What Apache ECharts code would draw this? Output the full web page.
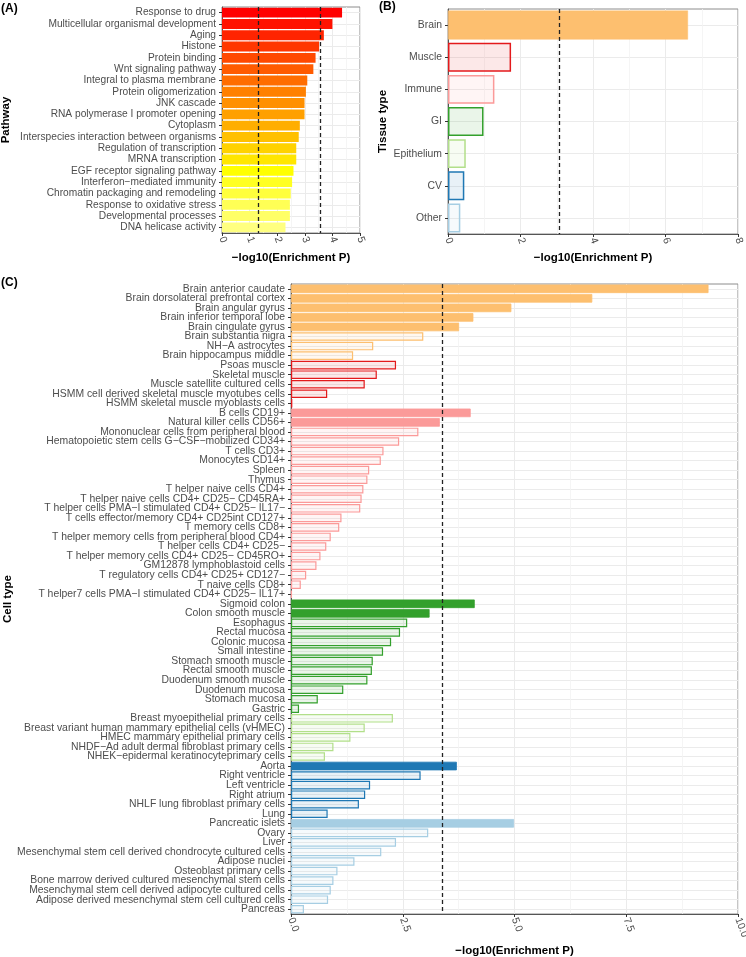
<!DOCTYPE html>
<html><head><meta charset="utf-8">
<script src="https://cdn.jsdelivr.net/npm/echarts@6/dist/echarts.min.js"></script>
<style>html,body{margin:0;padding:0;background:#fff}#c{width:746px;height:957px}</style>
</head><body><div id="c"></div>
<script>
// ---------- DATA ----------
const pathways = ['Response to drug','Multicellular organismal development','Aging','Histone','Protein binding','Wnt signaling pathway','Integral to plasma membrane','Protein oligomerization','JNK cascade','RNA polymerase I promoter opening','Cytoplasm','Interspecies interaction between organisms','Regulation of transcription','MRNA transcription','EGF receptor signaling pathway','Interferon−mediated immunity','Chromatin packaging and remodeling','Response to oxidative stress','Developmental processes','DNA helicase activity'];
const pathwayValues = [4.35,4.00,3.69,3.52,3.39,3.31,3.09,3.04,2.99,2.99,2.82,2.78,2.69,2.69,2.59,2.54,2.49,2.46,2.46,2.30];
const pathwayThresholds = [1.30,3.55];
const pathwayTicks = [0,1,2,3,4,5];

const tissues = ['Brain','Muscle','Immune','GI','Epithelium','CV','Other'];
const tissueValues = [6.62,1.74,1.28,0.98,0.49,0.45,0.34];
const tissueSignificant = [true,false,false,false,false,false,false];
const tissueThresholds = [3.08];
const tissueTicks = [0,2,4,6,8];

const cellTypes = ['Brain anterior caudate','Brain dorsolateral prefrontal cortex','Brain angular gyrus','Brain inferior temporal lobe','Brain cingulate gyrus','Brain substantia nigra','NH−A astrocytes','Brain hippocampus middle',
'Psoas muscle','Skeletal muscle','Muscle satellite cultured cells','HSMM cell derived skeletal muscle myotubes cells','HSMM skeletal muscle myoblasts cells',
'B cells CD19+','Natural killer cells CD56+','Mononuclear cells from peripheral blood','Hematopoietic stem cells G−CSF−mobilized CD34+','T cells CD3+','Monocytes CD14+','Spleen','Thymus','T helper naive cells CD4+','T helper naive cells CD4+ CD25− CD45RA+','T helper cells PMA−I stimulated CD4+ CD25− IL17−','T cells effector/memory CD4+ CD25int CD127+','T memory cells CD8+','T helper memory cells from peripheral blood CD4+','T helper cells CD4+ CD25−','T helper memory cells CD4+ CD25− CD45RO+','GM12878 lymphoblastoid cells','T regulatory cells CD4+ CD25+ CD127−','T naive cells CD8+','T helper7 cells PMA−I stimulated CD4+ CD25− IL17+',
'Sigmoid colon','Colon smooth muscle','Esophagus','Rectal mucosa','Colonic mucosa','Small intestine','Stomach smooth muscle','Rectal smooth muscle','Duodenum smooth muscle','Duodenum mucosa','Stomach mucosa','Gastric',
'Breast myoepithelial primary cells','Breast variant human mammary epithelial cells (vHMEC)','HMEC mammary epithelial primary cells','NHDF−Ad adult dermal fibroblast primary cells','NHEK−epidermal keratinocyteprimary cells',
'Aorta','Right ventricle','Left ventricle','Right atrium','NHLF lung fibroblast primary cells','Lung',
'Pancreatic islets','Ovary','Liver','Mesenchymal stem cell derived chondrocyte cultured cells','Adipose nuclei','Osteoblast primary cells','Bone marrow derived cultured mesenchymal stem cells','Mesenchymal stem cell derived adipocyte cultured cells','Adipose derived mesenchymal stem cell cultured cells','Pancreas'];
const cellValues = [9.34,6.74,4.93,4.08,3.76,2.96,1.84,1.39,
2.35,1.92,1.65,0.81,0.03,
4.02,3.33,2.85,2.42,2.07,2.01,1.75,1.71,1.62,1.58,1.55,1.13,1.08,0.89,0.79,0.66,0.57,0.34,0.22,0.02,
4.11,3.10,2.60,2.44,2.24,2.06,1.83,1.81,1.71,1.17,0.60,0.18,
2.28,1.65,1.33,0.95,0.76,
3.71,2.90,1.77,1.66,1.52,0.82,
4.99,3.07,2.35,2.02,1.42,1.04,0.95,0.89,0.83,0.29];
const cellTissue = ['Brain','Brain','Brain','Brain','Brain','Brain','Brain','Brain',
'Muscle','Muscle','Muscle','Muscle','Muscle',
'Immune','Immune','Immune','Immune','Immune','Immune','Immune','Immune','Immune','Immune','Immune','Immune','Immune','Immune','Immune','Immune','Immune','Immune','Immune','Immune',
'GI','GI','GI','GI','GI','GI','GI','GI','GI','GI','GI','GI',
'Epithelium','Epithelium','Epithelium','Epithelium','Epithelium',
'CV','CV','CV','CV','CV','CV',
'Other','Other','Other','Other','Other','Other','Other','Other','Other','Other'];
const cellSignificant = [true,true,true,true,true,false,false,false,
false,false,false,false,false,
true,true,false,false,false,false,false,false,false,false,false,false,false,false,false,false,false,false,false,false,
true,true,false,false,false,false,false,false,false,false,false,false,
false,false,false,false,false,
true,false,false,false,false,false,
true,false,false,false,false,false,false,false,false,false];
const cellThresholds = [3.38];
const cellTicks = [0,2.5,5,7.5,10];

// ---------- STYLES ----------
const heatColors = ['#FF0000','#FF1200','#FF2400','#FF3700','#FF4900','#FF5B00','#FF6D00','#FF8000','#FF9000','#FFA000','#FFAE00','#FFC000','#FFD200','#FFE600','#FFFF00','#FFFF22','#FFFF3C','#FFFF55','#FFFF66','#FFFF80'];
const tissueColors = {Brain:'#FDBF6F',Muscle:'#E31A1C',Immune:'#FB9A99',GI:'#33A02C',Epithelium:'#B2DF8A',CV:'#1F78B4',Other:'#A6CEE3'};
const FONT = '"Liberation Sans", Arial, sans-serif';
function rgba(hex,a){const n=parseInt(hex.slice(1),16);return 'rgba('+(n>>16&255)+','+(n>>8&255)+','+(n&255)+','+a+')';}
const titleStyle = {fontWeight:'bold',fontSize:11.5,color:'#000',fontFamily:FONT};

function catAxis(gi, data, name, gap, fs){
  return {type:'category',gridIndex:gi,data:data,inverse:true,
    axisLine:{show:true,lineStyle:{color:'#555',width:1}},
    axisTick:{show:true,alignWithLabel:true,length:3,lineStyle:{color:'#333'}},
    axisLabel:{interval:0,color:'#4D4D4D',fontSize:fs,fontFamily:FONT,margin:6},
    splitLine:{show:true,alignWithLabel:true,interval:0,lineStyle:{color:'#EBEBEB',width:1}},
    name:name,nameLocation:'middle',nameGap:gap,nameRotate:90,nameMoveOverlap:false,nameTextStyle:titleStyle};
}
function valAxis(gi, ticks, dec, gap){
  return {type:'value',gridIndex:gi,min:ticks[0],max:ticks[ticks.length-1],interval:ticks[1]-ticks[0],
    axisLine:{show:true,onZero:false,lineStyle:{color:'#555',width:1}},
    axisTick:{show:true,length:3,lineStyle:{color:'#333'}},
    axisLabel:{rotate:-70,color:'#4D4D4D',fontSize:10.4,fontFamily:FONT,margin:4,formatter:v=>v.toFixed(dec)},
    splitLine:{show:true,lineStyle:{color:'#EBEBEB',width:1}},
    minorTick:{show:false,splitNumber:2},
    minorSplitLine:{show:true,lineStyle:{color:'#F3F3F3',width:0.8}},
    name:'−log10(Enrichment P)',nameLocation:'middle',nameGap:gap,nameMoveOverlap:false,nameTextStyle:titleStyle};
}
function mark(vals){
  return {silent:true,symbol:'none',label:{show:false},
    lineStyle:{type:[4,3],color:'#222',width:1.3},
    data:vals.map(v=>({xAxis:v}))};
}
const gridBase = {show:true,borderColor:'#8C8C8C',borderWidth:1,containLabel:false,outerBoundsMode:'none'};

const chart = echarts.init(document.getElementById('c'),null,{renderer:'canvas'});
chart.setOption({
  animation:false,
  backgroundColor:'#fff',
  grid:[
    Object.assign({left:222,top:7,width:138,height:226},gridBase),
    Object.assign({left:448,top:9,width:290,height:225},gridBase),
    Object.assign({left:291,top:284,width:447,height:630},gridBase)
  ],
  xAxis:[valAxis(0,pathwayTicks,0,19),valAxis(1,tissueTicks,0,18),valAxis(2,cellTicks,1,31)],
  yAxis:[catAxis(0,pathways,'Pathway',210,10.2),catAxis(1,tissues,'Tissue type',59,10.4),catAxis(2,cellTypes,'Cell type',277,10.4)],
  graphic:[
    {type:'text',left:1,top:3,style:{text:'(A)',font:'bold 12px '+FONT,fill:'#000'}},
    {type:'text',left:379,top:1,style:{text:'(B)',font:'bold 12px '+FONT,fill:'#000'}},
    {type:'text',left:1,top:277,style:{text:'(C)',font:'bold 12px '+FONT,fill:'#000'}}
  ],
  series:[
    {type:'bar',xAxisIndex:0,yAxisIndex:0,barWidth:'88%',
      data:pathwayValues.map((v,i)=>({value:v,itemStyle:{color:heatColors[i]}})),
      markLine:mark(pathwayThresholds)},
    {type:'bar',xAxisIndex:1,yAxisIndex:1,barWidth:'90%',
      data:tissueValues.map((v,i)=>{const c=tissueColors[tissues[i]];
        return {value:v,itemStyle:{color:tissueSignificant[i]?c:rgba(c,0.1),borderColor:c,borderWidth:tissueSignificant[i]?0.5:1.5}};}),
      markLine:mark(tissueThresholds)},
    {type:'bar',xAxisIndex:2,yAxisIndex:2,barWidth:'90%',
      data:cellValues.map((v,i)=>{const c=tissueColors[cellTissue[i]];
        return {value:v,itemStyle:{color:cellSignificant[i]?c:rgba(c,0.1),borderColor:c,borderWidth:cellSignificant[i]?0.8:1.2}};}),
      markLine:mark(cellThresholds)}
  ]
});
</script></body></html>
